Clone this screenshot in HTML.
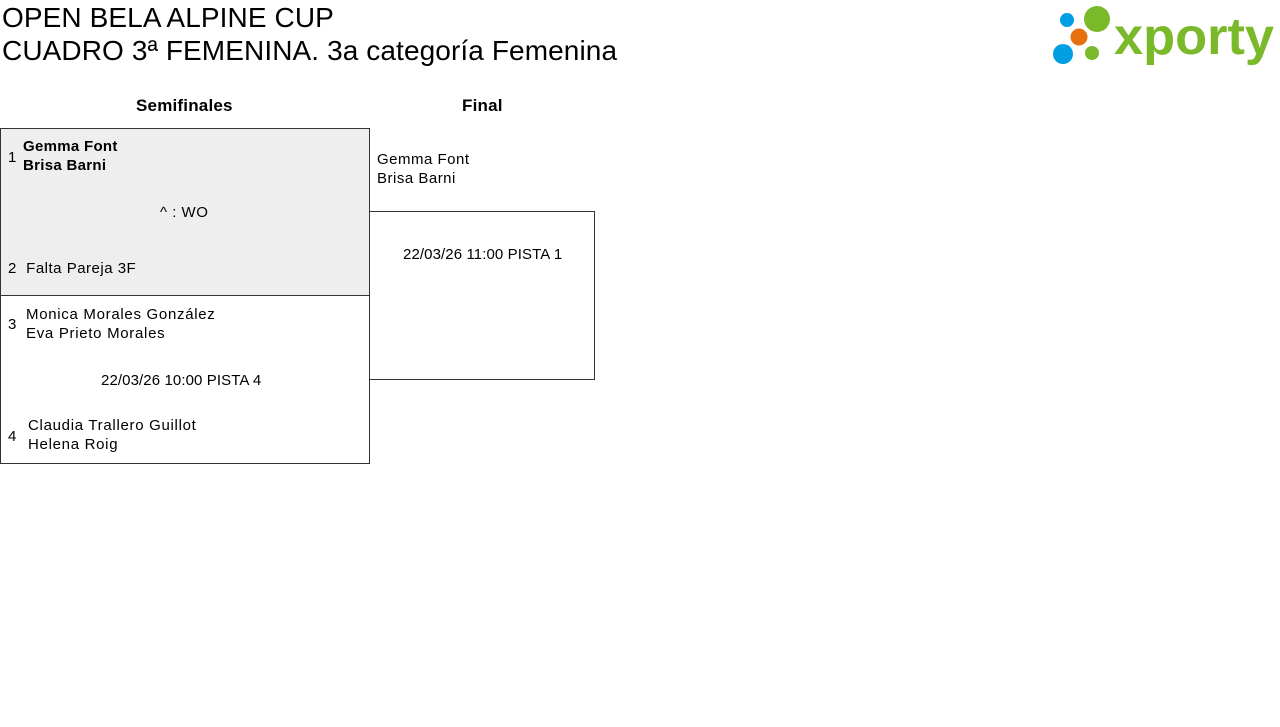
<!DOCTYPE html>
<html><head><meta charset="utf-8"><style>
body{margin:0;width:1280px;height:727px;background:#fff;font-family:"Liberation Sans",sans-serif;color:#000;position:relative;overflow:hidden}
.a{position:absolute;white-space:nowrap}
.t{font-size:28px;left:2px;letter-spacing:0.1px}
.h{font-size:17px;font-weight:bold;top:96px;letter-spacing:0.2px}
.s{font-size:15px;line-height:19px;letter-spacing:0.5px}
.box{position:absolute;border:1px solid #333;box-sizing:border-box}
</style></head><body>
<div class="a t" style="top:2px">OPEN BELA ALPINE CUP</div>
<div class="a t" style="top:35px">CUADRO 3ª FEMENINA. 3a categoría Femenina</div>
<svg class="a" style="left:1050px;top:4px" width="228" height="64">
<circle cx="17" cy="16" r="7" fill="#009fe3"/>
<circle cx="47" cy="15" r="13" fill="#7ab929"/>
<circle cx="29" cy="33" r="8.5" fill="#e6700d"/>
<circle cx="13" cy="50" r="10" fill="#009fe3"/>
<circle cx="42" cy="49" r="7" fill="#7ab929"/>
<text x="64" y="50" font-family="Liberation Sans,sans-serif" font-weight="bold" font-size="52" fill="#7ab929" textLength="160" lengthAdjust="spacingAndGlyphs">xporty</text>
</svg>
<div class="a h" style="left:136px">Semifinales</div>
<div class="a h" style="left:462px">Final</div>
<div class="box" style="left:0;top:128px;width:370px;height:168px;background:#eeeeee"></div>
<div class="box" style="left:0;top:295px;width:370px;height:169px"></div>
<div class="box" style="left:369px;top:211px;width:226px;height:169px"></div>
<div class="a s" style="left:8px;top:148px">1</div>
<div class="a s" style="left:23px;top:137px;font-weight:bold;letter-spacing:0.3px">Gemma Font<br>Brisa Barni</div>
<div class="a s" style="left:160px;top:203px">^ : WO</div>
<div class="a s" style="left:8px;top:259px">2&nbsp;&nbsp;Falta Pareja 3F</div>
<div class="a s" style="left:8px;top:315px">3</div>
<div class="a s" style="left:26px;top:305px;letter-spacing:0.7px">Monica Morales González<br>Eva Prieto Morales</div>
<div class="a s" style="left:101px;top:371px;letter-spacing:0.1px">22/03/26 10:00 PISTA 4</div>
<div class="a s" style="left:8px;top:427px">4</div>
<div class="a s" style="left:28px;top:416px;letter-spacing:0.7px">Claudia Trallero Guillot<br>Helena Roig</div>
<div class="a s" style="left:377px;top:150px">Gemma Font<br>Brisa Barni</div>
<div class="a s" style="left:403px;top:245px;letter-spacing:0.1px">22/03/26 11:00 PISTA 1</div>
</body></html>
